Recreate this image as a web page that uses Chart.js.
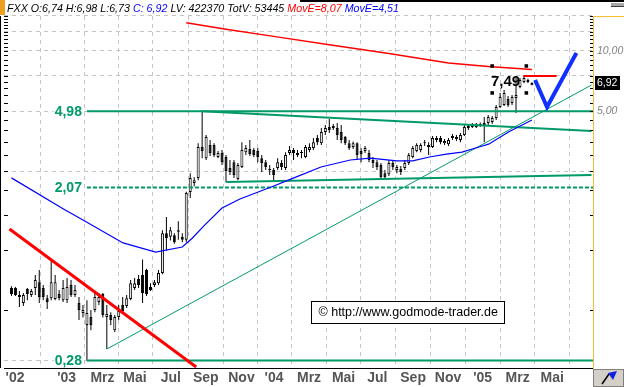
<!DOCTYPE html>
<html><head><meta charset="utf-8">
<script src="https://cdn.jsdelivr.net/npm/chart.js@4.4.1/dist/chart.umd.min.js"></script>
<style>
html,body{margin:0;padding:0;background:#fff;}
#wrap{position:relative;width:624px;height:387px;overflow:hidden;background:#fff;}
#c{position:absolute;left:0;top:0;}
#hdr{position:absolute;left:7px;top:2px;font:italic 10.7px "Liberation Sans",Arial,sans-serif;white-space:pre;color:#000;line-height:12px;}
#orange{position:absolute;left:0;top:0;width:5px;height:15px;background:#f0a020;}
</style></head><body>
<div id="wrap"><canvas id="c" width="624" height="387"></canvas>
<div id="orange"></div><div id="hdr"></div></div>
<script>
// ---- data (weekly candles, index 0 = late Sep 2002) ----
const openP  = [0.647,0.647,0.597,0.544,0.64,0.597,0.647,0.693,0.647,0.576,0.576,0.57,0.604,0.563,0.563,0.67,0.597,0.544,0.485,0.422,0.463,0.502,0.551,0.604,0.463,0.474,0.398,0.463,0.532,0.526,0.57,0.647,0.718,0.752,0.797,0.655,0.67,0.685,0.77,1.22,1.17,1.19,1.26,1.17,1.13,1.96,2.18,2.31,3.30,2.90,3.38,3.38,2.94,3.08,2.94,2.59,2.77,2.28,2.62,3.11,3.22,3.19,3.15,2.90,2.77,2.56,2.53,2.59,2.74,2.59,3.08,3.19,3.08,3.11,2.94,3.19,3.26,3.66,3.45,3.92,4.16,4.11,4.11,3.92,3.70,3.45,3.30,3.45,3.15,3.15,3.08,2.84,2.77,2.68,2.44,2.41,2.74,2.53,2.56,2.59,2.74,2.94,3.15,3.19,3.49,3.38,3.30,3.58,3.66,3.45,3.41,3.75,3.70,3.58,3.79,4.11,4.16,4.16,4.20,4.35,4.35,4.40,4.61,5.24,5.36,5.74,5.48,5.81,6.60,6.99,6.99,6.74];
const highP  = [0.66,0.655,0.625,0.611,0.647,0.64,0.752,0.797,0.67,0.597,0.895,0.752,0.633,0.71,0.727,0.71,0.67,0.583,0.532,0.563,0.502,0.611,0.611,0.611,0.532,0.49,0.474,0.532,0.583,0.597,0.71,0.727,0.752,0.9,0.81,0.685,0.71,0.797,1.26,1.47,1.31,1.22,1.40,1.22,1.97,2.44,2.33,3.45,4.98,3.79,3.58,3.45,3.15,3.19,3.01,2.84,2.84,2.74,3.49,3.38,3.58,3.26,3.26,3.01,2.84,2.68,2.59,2.90,2.84,3.11,3.34,3.26,3.19,3.19,3.38,3.45,3.66,3.79,4.11,4.25,4.56,4.30,4.35,4.25,3.75,3.58,3.52,3.49,3.26,3.34,3.19,2.94,2.84,2.74,2.53,2.84,2.81,2.68,2.65,2.84,3.08,3.34,3.45,3.45,3.58,3.49,3.75,3.75,3.75,3.62,3.66,3.83,3.79,3.88,4.25,4.30,4.35,4.35,4.38,4.67,4.77,4.72,5.36,6.16,6.37,5.95,6.01,7.49,7.32,7.41,7.25,6.98];
const lowP   = [0.59,0.59,0.52,0.526,0.563,0.583,0.597,0.544,0.563,0.508,0.563,0.563,0.563,0.551,0.544,0.583,0.583,0.447,0.46,0.28,0.398,0.49,0.532,0.46,0.32,0.422,0.39,0.447,0.485,0.514,0.563,0.633,0.647,0.544,0.59,0.625,0.655,0.67,0.76,1.0,1.12,1.08,1.13,1.10,1.10,1.83,2.10,2.25,2.90,2.84,2.97,2.94,2.90,2.68,2.20,2.39,2.31,2.25,2.59,3.01,2.97,2.94,2.77,2.47,2.53,2.39,2.25,2.53,2.53,2.53,3.01,2.84,2.94,2.90,2.90,3.11,3.19,3.38,3.38,3.79,3.88,4.01,3.58,3.45,3.38,3.19,3.22,2.84,2.77,3.08,2.77,2.59,2.53,2.31,2.28,2.36,2.53,2.44,2.39,2.53,2.68,2.90,3.11,3.11,3.34,3.01,3.26,3.49,3.41,3.38,3.34,3.58,3.54,3.49,3.75,4.01,4.11,4.11,4.16,3.49,4.25,4.30,4.51,5.18,5.30,5.24,5.36,4.89,6.50,6.90,6.91,6.73];
const closeP = [0.604,0.597,0.583,0.597,0.604,0.625,0.71,0.583,0.583,0.551,0.693,0.693,0.576,0.647,0.655,0.597,0.633,0.502,0.502,0.485,0.422,0.583,0.583,0.474,0.48,0.447,0.463,0.496,0.496,0.576,0.685,0.685,0.67,0.611,0.604,0.633,0.693,0.77,1.22,1.15,1.26,1.10,1.24,1.13,1.94,2.31,2.25,3.30,3.15,3.70,3.08,3.01,3.08,2.77,2.50,2.47,2.39,2.68,3.19,3.26,3.04,3.01,2.94,2.74,2.62,2.53,2.39,2.77,2.62,3.01,3.19,3.08,3.01,3.08,3.30,3.30,3.49,3.49,3.92,4.11,4.01,4.20,3.79,3.58,3.45,3.26,3.45,3.01,3.04,3.26,2.84,2.74,2.62,2.33,2.33,2.74,2.62,2.62,2.47,2.74,3.01,3.26,3.38,3.38,3.45,3.30,3.66,3.66,3.49,3.54,3.58,3.66,3.62,3.79,4.16,4.20,4.25,4.30,4.30,4.25,4.67,4.61,5.24,5.88,6.16,5.36,5.88,6.01,7.15,7.32,7.15,6.92];

// moving averages: [week, value]
const blueMA = [[0,2.31],[13.2,1.61],[18,1.42],[28.1,1.09],[36.3,0.98],[43,1.04],[45.5,1.15],[48.5,1.33],[53,1.63],[57.5,1.81],[65.4,2.08],[71.1,2.31],[77.9,2.62],[85.3,2.84],[90.3,2.90],[97,2.81],[101,2.81],[105.2,2.94],[109.5,3.04],[113.4,3.11],[117.7,3.30],[120.1,3.41],[125.1,3.92],[131,4.51]];
const redMA  = [[44,13.87],[54,12.85],[66,11.84],[80,10.74],[95,9.71],[110,8.71],[120,8.36],[131,8.07]];

// drawn lines: [week, value] end points
const levelStart = 19;
const levels = [4.98, 2.07, 0.28];
const levelDash = [false, true, false];
const upTrend   = [[24,0.32],[146,6.75]];
const resist    = [[48,4.98],[146,3.97]];
const support   = [[54,2.20],[146,2.39]];
const redTrend  = [[-0.5,1.28],[46.5,0.26]];
const highLevel = [[128.8,7.49],[137.2,7.49]];
const projection= [[131.8,7.15],[134.8,5.24],[142.2,9.77]];
const handles   = [[121,8.41],[129.6,8.41],[121,6.16],[129.6,6.16]];

// axis ticks
const tickPos = [0.9,13.9,22.9,31.1,40.1,48.9,57.9,66.1,74.9,83.6,92.1,101.1,109.9,118.6,127.4,136.1];
const tickLbl = ["'02","'03","Mrz","Mai","Jul","Sep","Nov","'04","Mrz","Mai","Jul","Sep","Nov","'05","Mrz","Mai"];
const yGrid   = [15,12.5,10,7.5,5,2.5,0.28];
const yLabels = [10,5];
const minorTicks = [0.5,1,1.5,2,2.5,3,3.5,4,4.5,5,5.5,6,6.5,7,7.5,8,8.5,9,9.5,10,10.5,11,11.5,12,12.5,13,13.5,14,14.5,15];
const volText = {LV:'422370', TotV:'53445'};

const fmt = v => v.toFixed(2).replace('.', ',');
const GREEN = '#009a6a';
const last = closeP.length - 1;

document.getElementById('hdr').innerHTML =
  'FXX O:' + fmt(openP[last]) + ' H:' + fmt(highP[last]) + ' L:' + fmt(lowP[last]) +
  ' <span style="color:#0000ff">C: ' + fmt(closeP[last]) + '</span> LV: ' + volText.LV +
  ' TotV: ' + volText.TotV + ' <span style="color:#ff0000">MovE=' + fmt(redMA[redMA.length-1][1]) +
  '</span> <span style="color:#0000ff">MovE=' + fmt(blueMA[blueMA.length-1][1]) + '</span>';

const idx = openP.map((_, i) => i);
const pts = a => a.map(p => ({x: p[0], y: p[1]}));
const lineDs = (data, color, width, extra) => Object.assign({
  type: 'line', data: pts(data), borderColor: color, borderWidth: width,
  pointRadius: 0, fill: false, tension: 0, order: 1
}, extra || {});

const datasets = [];
datasets.push({
  type: 'bar', data: idx.map(i => ({x: i, y: [lowP[i], highP[i]]})),
  backgroundColor: '#000', borderWidth: 0, barThickness: 1, grouped: false, inflateAmount: 0, order: 6
});
datasets.push({
  type: 'bar', data: idx.map(i => ({x: i, y: [openP[i], closeP[i]]})),
  backgroundColor: idx.map(i => closeP[i] >= openP[i] ? '#ffffff' : '#000000'),
  borderColor: '#000', borderWidth: 1, borderSkipped: false, barThickness: 3,
  minBarLength: 1, grouped: false, inflateAmount: 0, order: 5
});
levels.forEach((v, k) => datasets.push(lineDs([[levelStart, v], [147, v]], GREEN, 2,
  {borderDash: levelDash[k] ? [4, 2] : [], order: 3})));
datasets.push(lineDs(upTrend, GREEN, 1, {order: 3}));
datasets.push(lineDs(resist, GREEN, 2, {order: 3}));
datasets.push(lineDs(support, GREEN, 2, {order: 3}));
datasets.push(lineDs(blueMA, '#0000ff', 1.2, {order: 2}));
datasets.push(lineDs(redMA, '#ff0000', 1.5, {order: 2}));
datasets.push(lineDs(redTrend, '#ff0000', 3, {order: 2}));
datasets.push(lineDs(highLevel, '#ff0000', 2, {order: 2}));
datasets.push(lineDs(projection, '#1030ff', 4, {order: 1, borderJoinStyle: 'miter'}));
datasets.push(lineDs(handles, '#000', 0, {showLine: false, pointRadius: 2.5, pointStyle: 'rect',
  pointBackgroundColor: '#000', pointBorderWidth: 0, order: 0}));

const overlay = {
  id: 'overlay',
  afterDraw(chart) {
    const ctx = chart.ctx, xs = chart.scales.x, ys = chart.scales.y, ca = chart.chartArea;
    ctx.save();
    ctx.strokeStyle = '#000'; ctx.lineWidth = 1; ctx.beginPath();
    ctx.moveTo(0.5, ca.top); ctx.lineTo(0.5, ca.bottom);
    minorTicks.forEach(v => {
      const y = Math.round(ys.getPixelForValue(v)) + 0.5;
      if (y < ca.top || y > ca.bottom) return;
      ctx.moveTo(ca.left, y); ctx.lineTo(ca.left + 4, y);
      ctx.moveTo(ca.right - 3, y); ctx.lineTo(ca.right, y);
    });
    ctx.stroke();
    ctx.font = 'bold 14px "Liberation Sans", Arial, sans-serif';
    ctx.textAlign = 'right'; ctx.textBaseline = 'middle';
    levels.forEach(v => {
      const x = xs.getPixelForValue(levelStart) - 5, y = ys.getPixelForValue(v) + 1;
      const t = fmt(v), w = ctx.measureText(t).width;
      ctx.fillStyle = '#fff'; ctx.fillRect(x - w - 1, y - 6, w + 2, 12);
      ctx.fillStyle = GREEN; ctx.fillText(t, x, y);
    });
    ctx.font = 'bold 15px "Liberation Sans", Arial, sans-serif';
    ctx.fillStyle = '#000';
    ctx.fillText(fmt(highLevel[0][1]), xs.getPixelForValue(highLevel[0][0]) - 3, ys.getPixelForValue(highLevel[0][1]) + 6);
    const yc = Math.round(ys.getPixelForValue(closeP[last]));
    ctx.fillStyle = '#000'; ctx.fillRect(ca.right + 2, yc - 7, 25, 14);
    ctx.fillStyle = '#fff'; ctx.font = '10.5px "Liberation Sans", Arial, sans-serif';
    ctx.textAlign = 'left'; ctx.fillText(fmt(closeP[last]), ca.right + 4, yc);
    const bx = ca.left + 307.5, by = 301.5;
    ctx.fillStyle = '#fff'; ctx.fillRect(bx, by, 193, 22);
    ctx.strokeStyle = '#000'; ctx.lineWidth = 1; ctx.strokeRect(bx, by, 193, 22);
    ctx.fillStyle = '#000'; ctx.font = '12.5px "Liberation Sans", Arial, sans-serif';
    ctx.textAlign = 'left'; ctx.fillText('\u00A9 http://www.godmode-trader.de', bx + 7, by + 11.5);
    ctx.strokeStyle = '#f0c030'; ctx.beginPath();
    ctx.moveTo(ca.right, ca.top + 0.5); ctx.lineTo(624, ca.top + 0.5); ctx.stroke();
    ctx.fillStyle = '#d4d0c8'; ctx.fillRect(ca.right, ca.bottom + 1, 624 - ca.right, 387 - ca.bottom);
    ctx.strokeStyle = '#808080'; ctx.strokeRect(ca.right + 0.5, ca.bottom + 1.5, 624 - ca.right - 1, 387 - ca.bottom - 2);
    ctx.strokeStyle = '#000'; ctx.lineWidth = 1.5; ctx.beginPath();
    ctx.moveTo(ca.right + 9, 384); ctx.lineTo(ca.right + 16, 374); ctx.stroke();
    ctx.fillStyle = '#1020e0'; ctx.beginPath();
    ctx.moveTo(ca.right + 15, 373); ctx.lineTo(ca.right + 24, 371); ctx.lineTo(ca.right + 20, 380); ctx.closePath(); ctx.fill();
    ctx.fillStyle = '#a8a8a8'; ctx.fillRect(611, 3, 13, 3);
    ctx.fillStyle = '#404040'; ctx.fillRect(611, 6, 13, 1);
    ctx.fillStyle = '#000'; ctx.fillRect(300, 0, 324, 2);
    ctx.restore();
  }
};

new Chart(document.getElementById('c'), {
  type: 'bar',
  data: {datasets},
  options: {
    responsive: false, animation: false, devicePixelRatio: 1,
    layout: {padding: {top: 16, left: 0, right: 0, bottom: 0}},
    plugins: {legend: {display: false}, tooltip: {enabled: false}},
    scales: {
      x: {
        type: 'linear', min: -1.875, max: 146.375, offset: false,
        afterBuildTicks: s => { s.ticks = tickPos.map(v => ({value: v})); },
        afterFit: s => { s.height = 19; },
        ticks: {
          autoSkip: false, maxRotation: 0, padding: 2, color: '#555',
          font: {family: '"Liberation Sans", Arial, sans-serif', size: 14, weight: 'bold'},
          callback: v => { const k = tickPos.indexOf(v); return k >= 0 ? tickLbl[k] : ''; }
        },
        grid: {
          drawTicks: false,
          color: c => (c.tick && c.tick.value === tickPos[0]) ? 'rgba(0,0,0,0)' : '#c4c4c4'
        },
        border: {display: true, color: '#000', width: 1, dash: [4, 4]}
      },
      y: {
        type: 'logarithmic', position: 'right', min: 0.2571, max: 14.98,
        afterBuildTicks: s => { s.ticks = yGrid.map(v => ({value: v})); },
        afterFit: s => { s.width = 31; },
        ticks: {
          autoSkip: false, padding: 4, color: '#808080',
          font: {family: '"Liberation Sans", Arial, sans-serif', size: 10.5, style: 'italic'},
          callback: v => yLabels.includes(v) ? fmt(v) : ''
        },
        grid: {drawTicks: false, color: '#c4c4c4'},
        border: {display: true, color: '#f0c030', width: 1, dash: [4, 4]}
      }
    }
  },
  plugins: [overlay]
});
</script>
</body></html>
